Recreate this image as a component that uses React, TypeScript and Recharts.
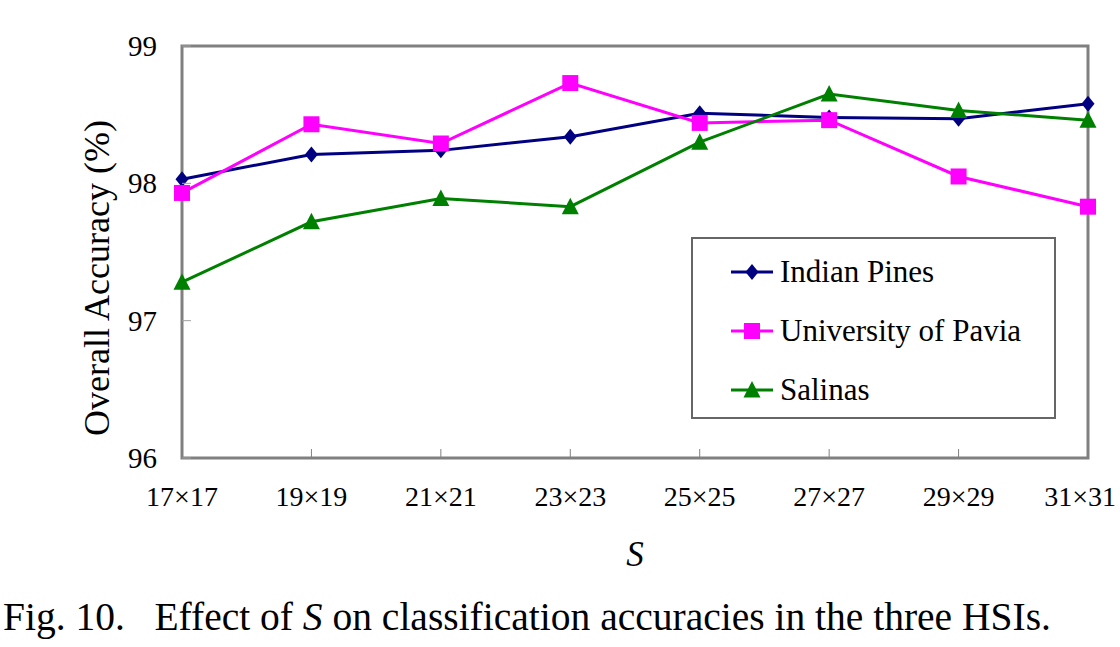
import React from 'react'
import { LineChart, Line, XAxis, YAxis, ReferenceArea, Legend } from 'recharts'

const serif = '"Liberation Serif", "Times New Roman", serif'

// patch size S on the x axis
const sizes = ['17×17', '19×19', '21×21', '23×23', '25×25', '27×27', '29×29', '31×31']
const indianPines = [98.03, 98.21, 98.24, 98.34, 98.51, 98.48, 98.47, 98.58]
const pavia = [97.93, 98.43, 98.29, 98.73, 98.44, 98.46, 98.05, 97.83]
const salinas = [97.28, 97.72, 97.89, 97.83, 98.3, 98.65, 98.53, 98.46]
const yTicks = [96, 97, 98, 99]

const data = sizes.map((s, i) => ({
  s,
  ip: indianPines[i],
  pu: pavia[i],
  sa: salinas[i],
}))

const series = [
  { key: 'ip', name: 'Indian Pines', color: '#000080', shape: 'diamond' },
  { key: 'pu', name: 'University of Pavia', color: '#ff00ff', shape: 'square' },
  { key: 'sa', name: 'Salinas', color: '#008000', shape: 'triangle' },
]

function Marker({ cx, cy, color, shape }: { cx: number; cy: number; color: string; shape: string }) {
  if (shape === 'diamond') {
    return <polygon points={`${cx},${cy - 8} ${cx + 6.5},${cy} ${cx},${cy + 8} ${cx - 6.5},${cy}`} fill={color} />
  }
  if (shape === 'square') {
    return <rect x={cx - 8} y={cy - 8} width={16} height={16} fill={color} />
  }
  return <polygon points={`${cx},${cy - 9} ${cx + 8.5},${cy + 7.5} ${cx - 8.5},${cy + 7.5}`} fill={color} />
}

function XTick(props: any) {
  const { x, y, payload, index } = props
  // the last label is pulled in so it stays inside the picture
  const last = index === sizes.length - 1
  return (
    <g>
      <line x1={x} y1={y} x2={x} y2={y - 9} stroke="#808080" strokeWidth={1} />
      <text
        x={last ? x + 28 : x}
        y={y + 38}
        textAnchor={last ? 'end' : 'middle'}
        dominantBaseline="central"
        fontFamily={serif}
        fontSize={28}
        fill="#000"
      >
        {payload.value}
      </text>
    </g>
  )
}

function YTick(props: any) {
  const { x, y, payload } = props
  return (
    <g>
      <line x1={x} y1={y} x2={x + 9} y2={y} stroke="#a0a0a0" strokeWidth={1} />
      <text x={x - 25} y={y} textAnchor="end" dominantBaseline="central" fontFamily={serif} fontSize={29} fill="#000">
        {payload.value}
      </text>
    </g>
  )
}

function YLabel(props: any) {
  const vb = props.viewBox || { x: 62, y: 46, width: 120, height: 412 }
  const cx = vb.x + 35
  const cy = vb.y + vb.height / 2 + 26
  return (
    <text
      x={cx}
      y={cy}
      transform={`rotate(-90 ${cx} ${cy})`}
      textAnchor="middle"
      dominantBaseline="central"
      fontFamily={serif}
      fontSize={36}
      fill="#000"
    >
      Overall Accuracy (%)
    </text>
  )
}

function LegendBox() {
  return (
    <div
      style={{
        width: 365,
        height: 182,
        boxSizing: 'border-box',
        border: '2px solid #666',
        background: '#fff',
        position: 'relative',
        textAlign: 'left',
        fontFamily: serif,
      }}
    >
      {series.map((s, i) => (
        <div
          key={s.key}
          style={{ position: 'absolute', left: 37, top: 13 + i * 59, height: 40, display: 'flex', alignItems: 'center' }}
        >
          <svg width={44} height={24} style={{ display: 'block' }}>
            <line x1={1} y1={12} x2={43} y2={12} stroke={s.color} strokeWidth={3} />
            <Marker cx={22} cy={12} color={s.color} shape={s.shape} />
          </svg>
          <span style={{ marginLeft: 6, color: '#000', lineHeight: '40px', fontFamily: serif, fontSize: 31, whiteSpace: 'nowrap' }}>
            {s.name}
          </span>
        </div>
      ))}
    </div>
  )
}

export default function App() {
  return (
    <div style={{ position: 'absolute', left: 0, top: 0, width: 1120, height: 647, background: '#fff' }}>
      <LineChart width={1120} height={590} data={data} margin={{ top: 46, right: 32, left: 62, bottom: 22 }}>
        <ReferenceArea
          x1={sizes[0]}
          x2={sizes[sizes.length - 1]}
          y1={96}
          y2={99}
          fill="none"
          stroke="#808080"
          strokeWidth={3}
          ifOverflow="visible"
        />
        <XAxis
          dataKey="s"
          axisLine={false}
          tickLine={false}
          tickSize={0}
          tickMargin={0}
          height={110}
          interval={0}
          tick={<XTick />}
          label={{ value: 'S', position: 'insideBottom', offset: 2, fontFamily: serif, fontSize: 35, fontStyle: 'italic', fill: '#000' }}
        />
        <YAxis
          domain={[96, 99]}
          ticks={yTicks}
          allowDataOverflow
          axisLine={false}
          tickLine={false}
          tickSize={0}
          tickMargin={0}
          width={120}
          tick={<YTick />}
          label={<YLabel />}
        />
        <Legend
          layout="horizontal"
          verticalAlign="middle"
          align="center"
          wrapperStyle={{ left: 691, top: 237, width: 365, height: 182 }}
          content={() => <LegendBox />}
        />
        {series.map(s => (
          <Line
            key={s.key}
            type="linear"
            dataKey={s.key}
            name={s.name}
            stroke={s.color}
            strokeWidth={3}
            isAnimationActive={false}
            dot={(p: any) => <Marker key={`${s.key}-${p.index}`} cx={p.cx} cy={p.cy} color={s.color} shape={s.shape} />}
            activeDot={false}
          />
        ))}
      </LineChart>
      <div
        style={{
          position: 'absolute',
          left: 3,
          top: 594,
          fontFamily: serif,
          fontSize: 39.5,
          color: '#000',
          whiteSpace: 'pre',
          lineHeight: '46px',
        }}
      >
        {'Fig. 10.   Effect of '}
        <i>S</i>
        {' on classification accuracies in the three HSIs.'}
      </div>
    </div>
  )
}
